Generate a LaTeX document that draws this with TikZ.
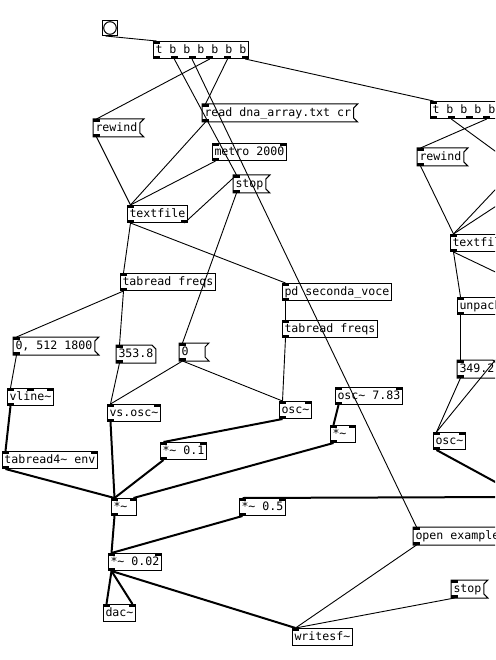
\documentclass[tikz,border=0pt]{standalone}
\usepackage{fontspec}
\setmonofont{DejaVu Sans Mono}
\usetikzlibrary{calc}

% tilde as printed in the patch
\newcommand{\pdtl}{\textasciitilde}

% inlets (top) and outlets (bottom) of a box, each also named: (box-i1), (box-o1), ...
\newcommand{\pdpins}[3]{%
  \ifnum#2>0
    \foreach \k in {1,...,#2}{%
      \path let \p1=(#1.north west), \p2=(#1.north east),
                \n1={(\x2-\x1-7)*(\k-1)/max(#2-1,1)} in
            coordinate (#1-i\k) at (\x1+\n1+3.5,\y1);
      \fill ([xshift=-3.5pt]#1-i\k) rectangle ([xshift=3.5pt,yshift=-3pt]#1-i\k);
    }%
  \fi
  \ifnum#3>0
    \foreach \k in {1,...,#3}{%
      \path let \p1=(#1.south west), \p2=(#1.south east),
                \n1={(\x2-\x1-7)*(\k-1)/max(#3-1,1)} in
            coordinate (#1-o\k) at (\x1+\n1+3.5,\y1);
      \fill ([xshift=-3.5pt]#1-o\k) rectangle ([xshift=3.5pt,yshift=3pt]#1-o\k);
    }%
  \fi
}

\tikzset{
  % every patch box is placed by its top left corner
  pdbox/.style={anchor=north west, font=\ttfamily\fontsize{11.6pt}{14pt}\selectfont,
                inner xsep=2pt, inner ysep=0pt, minimum height=17pt,
                text height=8.6pt, text depth=2.4pt, line width=1pt},
  obj/.style={pdbox, draw},
  msg/.style={pdbox},
  atom/.style={pdbox},
  narrow/.style={text width=21pt},
  outline/.style={line width=1pt},
  % connections
  ctl/.style={line width=0.9pt},
  sig/.style={line width=2pt},
}

\begin{document}
\begin{tikzpicture}[x=1pt, y=-1pt]
\fill[white] (0,0) rectangle (495,660);
\useasboundingbox (0,0) rectangle (495,660);
\clip (0,0) rectangle (495,660);

% --- reading the text file ---
\node[obj, minimum width=15pt, minimum height=15pt, inner sep=0pt] (bang) at (102,20) {};
\draw[outline] (bang.center) circle[radius=6.3pt];
\node[obj] (tbl) at (153,41) {t b b b b b b};
\node[msg] (rewind) at (93,119) {rewind};
\node[msg] (readmsg) at (202,104) {read dna\_array.txt cr};
\node[obj] (metro) at (212,143) {metro 2000};
\node[msg] (stopa) at (233,175) {stop};
\node[obj] (textfile) at (127,205) {textfile};

% --- first voice ---
\node[obj] (tabfreq) at (120,273) {tabread freqs};
\node[obj] (pdvoce) at (282,283) {pd seconda\_voce};
\node[obj] (tabfreqb) at (282,320) {tabread freqs};
\node[msg] (envmsg) at (13,337) {0, 512 1800};
\node[atom] (numa) at (116,345) {353.8};
\node[msg, narrow] (zero) at (179,343) {0};
\node[obj] (vline) at (7,388) {vline\pdtl};
\node[obj] (tabenv) at (2,451) {tabread4\pdtl{} env};
\node[obj] (vsosc) at (107,404) {vs.osc\pdtl};
\node[obj] (osca) at (279,401) {osc\pdtl};
\node[obj] (osclfo) at (335,387) {osc\pdtl{} 7.83};
\node[obj, narrow] (mullfo) at (330,425) {*\pdtl};
\node[obj] (mulmix) at (160,442) {*\pdtl{} 0.1};
\node[obj, narrow] (mulenv) at (111,498) {*\pdtl};
\node[obj] (mulhalf) at (239,498) {*\pdtl{} 0.5};
\node[obj] (mulout) at (108,553) {*\pdtl{} 0.02};
\node[obj] (dac) at (103,604) {dac\pdtl};
\node[obj] (writesf) at (292,628) {writesf\pdtl};
\node[msg] (openmsg) at (413,527) {open example};
\node[msg] (stopb) at (451,580) {stop};

% --- second voice (cut by the right edge) ---
\node[obj] (tbr) at (430,101) {t b b b b b b};
\node[msg] (rewindb) at (417,148) {rewind};
\node[obj] (textfileb) at (450,234) {textfile};
\node[obj] (unpack) at (457,297) {unpack};
\node[atom] (numb) at (457,360) {349.2};
\node[obj] (oscb) at (433,432) {osc\pdtl};

% message and number outlines
\foreach \m in {rewind,readmsg,stopa,envmsg,zero,openmsg,stopb,rewindb}
  \draw[outline] (\m.north west) -- ([xshift=4pt]\m.north east) -- ([yshift=-4pt]\m.north east)
    -- ([yshift=4pt]\m.south east) -- ([xshift=4pt]\m.south east) -- (\m.south west) -- cycle;
\foreach \m in {numa,numb}
  \draw[outline] (\m.north west) -- ([xshift=-4pt]\m.north east) -- ([yshift=-4pt]\m.north east)
    -- (\m.south east) -- (\m.south west) -- cycle;

\pdpins{tbl}{1}{6}
\pdpins{rewind}{1}{1}
\pdpins{readmsg}{1}{1}
\pdpins{metro}{2}{1}
\pdpins{stopa}{1}{1}
\pdpins{textfile}{1}{2}
\pdpins{tabfreq}{1}{1}
\pdpins{pdvoce}{1}{1}
\pdpins{tabfreqb}{1}{1}
\pdpins{envmsg}{1}{1}
\pdpins{numa}{1}{1}
\pdpins{zero}{1}{1}
\pdpins{vline}{3}{1}
\pdpins{tabenv}{2}{1}
\pdpins{vsosc}{2}{1}
\pdpins{osca}{2}{1}
\pdpins{osclfo}{2}{1}
\pdpins{mullfo}{2}{1}
\pdpins{mulmix}{2}{1}
\pdpins{mulenv}{2}{1}
\pdpins{mulhalf}{2}{1}
\pdpins{mulout}{2}{1}
\pdpins{dac}{2}{0}
\pdpins{writesf}{1}{0}
\pdpins{openmsg}{1}{1}
\pdpins{stopb}{1}{1}
\pdpins{tbr}{1}{6}
\pdpins{rewindb}{1}{1}
\pdpins{textfileb}{1}{2}
\pdpins{unpack}{1}{1}
\pdpins{numb}{1}{1}
\pdpins{oscb}{2}{1}

% ends of the connections that leave the picture
\coordinate (edgeA) at (510,162);
\coordinate (edgeB) at (510,174);
\coordinate (edgeC) at (510,197);
\coordinate (edgeD) at (510,279);
\coordinate (edgeE) at (510,342);
\coordinate (edgeF) at (510,490);
\coordinate (edgeG) at (510,497);

% control connections
\draw[ctl] ([xshift=3.5pt]bang.south west) -- (tbl-i1);
\draw[ctl] (tbl-o2) -- (stopa-i1);
\draw[ctl] (tbl-o3) -- (openmsg-i1);
\draw[ctl] (tbl-o4) -- (rewind-i1);
\draw[ctl] (tbl-o5) -- (readmsg-i1);
\draw[ctl] (tbl-o6) -- (tbr-i1);
\draw[ctl] (rewind-o1) -- (textfile-i1);
\draw[ctl] (readmsg-o1) -- (textfile-i1);
\draw[ctl] (metro-o1) -- (textfile-i1);
\draw[ctl] (textfile-o2) -- (stopa-i1);
\draw[ctl] (stopa-o1) -- (zero-i1);
\draw[ctl] (textfile-o1) -- (tabfreq-i1);
\draw[ctl] (textfile-o1) -- (pdvoce-i1);
\draw[ctl] (pdvoce-o1) -- (tabfreqb-i1);
\draw[ctl] (tabfreq-o1) -- (envmsg-i1);
\draw[ctl] (tabfreq-o1) -- (numa-i1);
\draw[ctl] (envmsg-o1) -- (vline-i1);
\draw[ctl] (numa-o1) -- (vsosc-i1);
\draw[ctl] (zero-o1) -- (vsosc-i1);
\draw[ctl] (zero-o1) -- (osca-i1);
\draw[ctl] (tabfreqb-o1) -- (osca-i1);
\draw[ctl] (openmsg-o1) -- (writesf-i1);
\draw[ctl] (stopb-o1) -- (writesf-i1);
\draw[ctl] (tbr-o2) -- (edgeA);
\draw[ctl] (tbr-o4) -- (rewindb-i1);
\draw[ctl] (rewindb-o1) -- (textfileb-i1);
\draw[ctl] (edgeB) -- (textfileb-i1);
\draw[ctl] (edgeC) -- (textfileb-i1);
\draw[ctl] (textfileb-o1) -- (edgeD);
\draw[ctl] (textfileb-o1) -- (unpack-i1);
\draw[ctl] (unpack-o1) -- (numb-i1);
\draw[ctl] (numb-o1) -- (oscb-i1);
\draw[ctl] (edgeE) -- (oscb-i1);

% signal connections
\draw[sig] (vline-o1) -- (tabenv-i1);
\draw[sig] (tabenv-o1) -- (mulenv-i1);
\draw[sig] (vsosc-o1) -- (mulenv-i1);
\draw[sig] (osca-o1) -- (mulmix-i1);
\draw[sig] (mulmix-o1) -- (mulenv-i1);
\draw[sig] (osclfo-o1) -- (mullfo-i1);
\draw[sig] (mullfo-o1) -- (mulenv-i2);
\draw[sig] (mulenv-o1) -- (mulout-i1);
\draw[sig] (mulhalf-o1) -- (mulout-i1);
\draw[sig] (mulout-o1) -- (dac-i1);
\draw[sig] (mulout-o1) -- (dac-i2);
\draw[sig] (mulout-o1) -- (writesf-i1);
\draw[sig] (oscb-o1) -- (edgeF);
\draw[sig] (edgeG) -- (mulhalf-i1);

\end{tikzpicture}
\end{document}
